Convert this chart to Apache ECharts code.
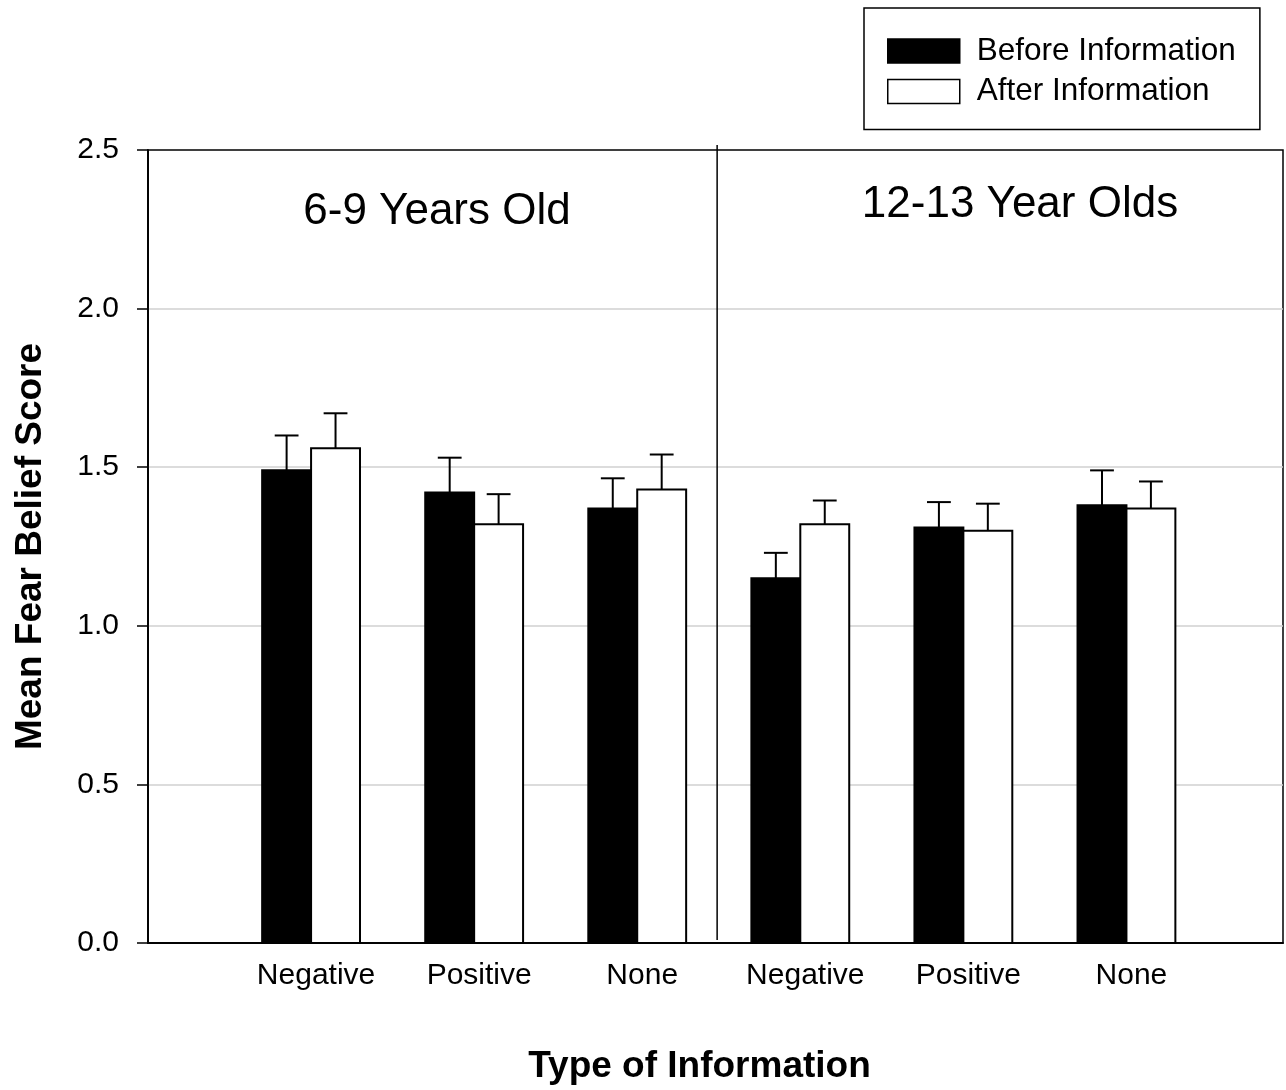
<!DOCTYPE html>
<html>
<head>
<meta charset="utf-8">
<script src="https://cdn.jsdelivr.net/npm/echarts@6/dist/echarts.min.js"></script>
<style>
html,body{margin:0;padding:0;background:#fff;}
#chart{width:1286px;height:1090px;}
</style>
</head>
<body>
<div id="chart"></div>
<script>
const categories = ['Negative', 'Positive', 'None', 'Negative', 'Positive', 'None'];
const beforeValues = [1.49, 1.42, 1.37, 1.15, 1.31, 1.38];
const beforeErrors = [0.11, 0.11, 0.095, 0.08, 0.08, 0.11];
const afterValues = [1.56, 1.32, 1.43, 1.32, 1.30, 1.37];
const afterErrors = [0.11, 0.095, 0.11, 0.075, 0.085, 0.085];
const groupTitles = ['6-9 Years Old', '12-13 Year Olds'];
const seriesNames = ['Before Information', 'After Information'];
const dividerPosition = [3.49];

const FONT = "'Liberation Sans', Arial, sans-serif";
const BAR_W = 0.3;
const CAP_HALF = 0.073;

function makeRender(offset, fill) {
  return function (params, api) {
    const x = api.value(0), v = api.value(1), e = api.value(2);
    const p0 = api.coord([x + offset, v]);
    const p1 = api.coord([x + offset + BAR_W, 0]);
    const cx = api.coord([x + offset + BAR_W / 2, 0])[0];
    const top = api.coord([x, v + e])[1];
    const capL = api.coord([x + offset + BAR_W / 2 - CAP_HALF, 0])[0];
    const capR = api.coord([x + offset + BAR_W / 2 + CAP_HALF, 0])[0];
    return {
      type: 'group',
      children: [
        { type: 'line', shape: { x1: cx, y1: p0[1], x2: cx, y2: top }, style: { stroke: '#000', lineWidth: 2 } },
        { type: 'line', shape: { x1: capL, y1: top, x2: capR, y2: top }, style: { stroke: '#000', lineWidth: 2 } },
        { type: 'rect', shape: { x: p0[0], y: p0[1], width: p1[0] - p0[0], height: p1[1] - p0[1] },
          style: { fill: fill, stroke: '#000', lineWidth: 2 } }
      ]
    };
  };
}

const chart = echarts.init(document.getElementById('chart'));
chart.setOption({
  animation: false,
  backgroundColor: '#fff',
  textStyle: { fontFamily: FONT, color: '#000' },
  grid: { left: 148, right: 3, top: 150, bottom: 147, show: true, borderColor: '#000', borderWidth: 1.5, backgroundColor: 'transparent' },
  legend: {
    orient: 'vertical',
    left: 864, top: 8,
    padding: [27, 24, 22, 23],
    itemGap: 8.5,
    itemWidth: 72, itemHeight: 24,
    borderColor: '#000', borderWidth: 1.5,
    textStyle: { fontSize: 31.5, color: '#000', fontFamily: FONT, padding: [0, 0, 0, 12] },
    data: [
      { name: seriesNames[0], icon: 'rect', itemStyle: { color: '#000', borderColor: '#000', borderWidth: 1.5 } },
      { name: seriesNames[1], icon: 'rect', itemStyle: { color: '#fff', borderColor: '#000', borderWidth: 1.5 } }
    ]
  },
  xAxis: [{
    type: 'value', min: 0, max: 6.96, interval: 1,
    name: 'Type of Information', nameLocation: 'middle', nameGap: 105,
    nameTextStyle: { fontSize: 37, fontWeight: 'bold', color: '#000', fontFamily: FONT, padding: [0, 32, 0, 0] },
    axisLine: { lineStyle: { color: '#000', width: 1.5 } },
    axisTick: { show: false },
    splitLine: { show: false },
    axisLabel: {
      fontSize: 30, color: '#000', fontFamily: FONT, margin: 18, padding: [0, 0, 0, 10],
      showMaxLabel: false,
      formatter: function (v) {
        const i = Math.round(v);
        return (Math.abs(v - i) < 1e-6 && i >= 1 && i <= categories.length) ? categories[i - 1] : '';
      }
    }
  }, {
    type: 'value', position: 'top', min: 0, max: 6.96, interval: 1, z: 5,
    axisLine: { show: true, lineStyle: { color: '#000', width: 1.5 } },
    axisTick: { show: false }, axisLabel: { show: false }, splitLine: { show: false }
  }],
  yAxis: [{
    type: 'value', min: 0, max: 2.5, interval: 0.5,
    name: 'Mean Fear Belief Score', nameLocation: 'middle', nameGap: 99,
    nameTextStyle: { fontSize: 37, fontWeight: 'bold', color: '#000', fontFamily: FONT },
    axisLine: { show: true, lineStyle: { color: '#000', width: 1.5 } },
    axisTick: { show: true, length: 11, lineStyle: { color: '#000', width: 1.5 } },
    splitLine: { show: true, showMinLine: false, showMaxLine: false, lineStyle: { color: '#d0d0d0', width: 1.5 } },
    axisLabel: { fontSize: 30, color: '#000', fontFamily: FONT, margin: 29, formatter: v => v.toFixed(1) }
  }, {
    type: 'value', position: 'right', min: 0, max: 2.5, interval: 0.5, z: 5,
    axisLine: { show: true, lineStyle: { color: '#000', width: 1.5 } },
    axisTick: { show: false }, axisLabel: { show: false }, splitLine: { show: false }
  }],
  graphic: [
    { type: 'text', x: 437, y: 212, style: { text: groupTitles[0], font: '44px ' + FONT, fill: '#000', textAlign: 'center', textVerticalAlign: 'middle' } },
    { type: 'text', x: 1020, y: 205, style: { text: groupTitles[1], font: '44px ' + FONT, fill: '#000', textAlign: 'center', textVerticalAlign: 'middle' } }
  ],
  series: [
    {
      name: seriesNames[0], type: 'custom',
      renderItem: makeRender(-BAR_W, '#000'),
      encode: { x: 0, y: 1 },
      data: categories.map((c, i) => [i + 1, beforeValues[i], beforeErrors[i]]),
      z: 3
    },
    {
      name: seriesNames[1], type: 'custom',
      renderItem: makeRender(0, '#fff'),
      encode: { x: 0, y: 1 },
      data: categories.map((c, i) => [i + 1, afterValues[i], afterErrors[i]]),
      z: 3
    },
    {
      name: 'divider', type: 'custom',
      renderItem: function (params, api) {
        const x = api.value(0);
        const b = api.coord([x, 0]);
        const t = api.coord([x, 2.5]);
        return { type: 'line', shape: { x1: b[0], y1: b[1] - 3, x2: t[0], y2: t[1] - 5 }, style: { stroke: '#000', lineWidth: 1.5 } };
      },
      encode: { x: 0 },
      data: dividerPosition.map(d => [d]),
      silent: true, z: 4
    }
  ]
});
</script>
</body>
</html>
